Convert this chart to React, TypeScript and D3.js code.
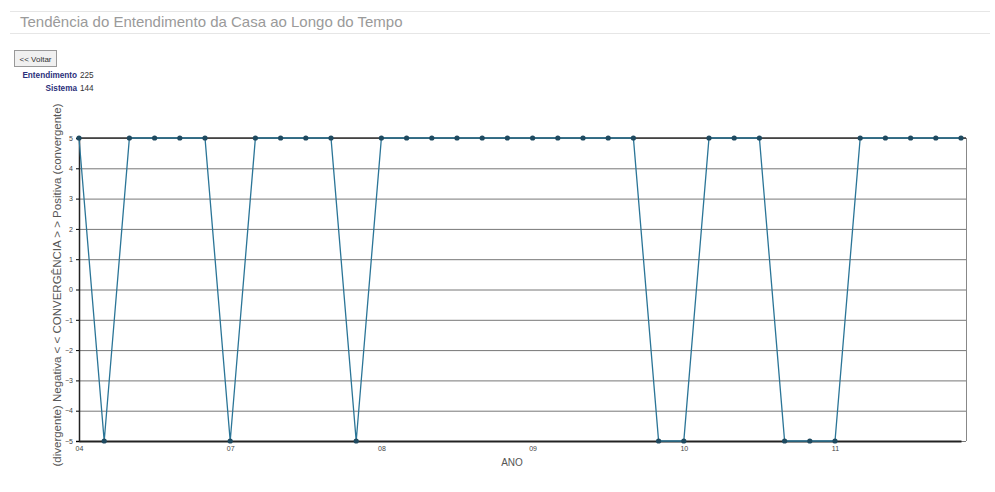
import React, { useRef, useEffect } from 'react';
import * as d3 from 'd3';

// one reading per period, +5 convergent / -5 divergent
const values: number[] = [
    5, -5, 5, 5, 5, 5, -5, 5, 5, 5, 5, -5,
    5, 5, 5, 5, 5, 5, 5, 5, 5, 5, 5, -5,
    -5, 5, 5, 5, -5, -5, -5, 5, 5, 5, 5, 5,
];
const yearTicks: { index: number; label: string }[] = [
    { index: 0, label: '04' },
    { index: 6, label: '07' },
    { index: 12, label: '08' },
    { index: 18, label: '09' },
    { index: 24, label: '10' },
    { index: 30, label: '11' },
];
const yTicks = d3.range(-5, 6);
const summaryLabels = ['Entendimento', 'Sistema'];
const summaryValues = [225, 144];

const W = 995;
const H = 492;

const App: React.FC = () => {
    const svgRef = useRef<SVGSVGElement>(null);

    useEffect(() => {
        if (!svgRef.current) return;
        const svg = d3.select(svgRef.current);
        svg.selectAll('*').remove();

        const left = 79, right = 966, top = 138, bottom = 441;
        const font = 'Liberation Sans, Arial, sans-serif';

        // header
        svg.append('line').attr('x1', 10).attr('x2', 990).attr('y1', 11.5).attr('y2', 11.5)
            .attr('stroke', '#e6e6e6');
        svg.append('line').attr('x1', 10).attr('x2', 990).attr('y1', 33.5).attr('y2', 33.5)
            .attr('stroke', '#e6e6e6');
        svg.append('text').attr('x', 20).attr('y', 27)
            .attr('font-family', font).attr('font-size', 15).attr('fill', '#9a9a9a')
            .text('Tendência do Entendimento da Casa ao Longo do Tempo');

        // back button
        svg.append('rect').attr('x', 14.5).attr('y', 50.5).attr('width', 42).attr('height', 16)
            .attr('fill', '#f0f0f0').attr('stroke', '#999');
        svg.append('text').attr('x', 35.5).attr('y', 62).attr('text-anchor', 'middle')
            .attr('font-family', font).attr('font-size', 8).attr('fill', '#333')
            .text('<< Voltar');

        summaryLabels.forEach((lab, i) => {
            const y = 78 + i * 13;
            svg.append('text').attr('x', 77).attr('y', y).attr('text-anchor', 'end')
                .attr('font-family', font).attr('font-size', 8.2).attr('font-weight', 'bold')
                .attr('fill', '#2b2f7a').text(lab);
            svg.append('text').attr('x', 80).attr('y', y)
                .attr('font-family', font).attr('font-size', 8.2).attr('fill', '#333')
                .text(String(summaryValues[i]));
        });

        const x = d3.scaleLinear().domain([0, values.length - 1]).range([left, 961]);
        const y = d3.scaleLinear().domain([-5, 5]).range([bottom, top]);

        // grid
        svg.append('g').selectAll('line').data(yTicks).enter().append('line')
            .attr('x1', left).attr('x2', right)
            .attr('y1', d => y(d) + 0.5).attr('y2', d => y(d) + 0.5)
            .attr('stroke', '#777').attr('stroke-width', 1);
        svg.append('line').attr('x1', right + 0.5).attr('x2', right + 0.5)
            .attr('y1', top).attr('y2', bottom).attr('stroke', '#888');

        // y axis
        const yAxis = d3.axisLeft(y).tickValues(yTicks).tickSize(3).tickFormat(d3.format('d'));
        const gy = svg.append('g').attr('transform', `translate(${left},0)`).call(yAxis);
        gy.select('.domain').attr('stroke', '#222').attr('stroke-width', 1.5);
        gy.selectAll('text').attr('font-size', 7).attr('font-family', font).attr('fill', '#444');

        // x axis
        const xAxis = d3.axisBottom(x)
            .tickValues(yearTicks.map(t => t.index))
            .tickSize(0).tickPadding(5)
            .tickFormat((d) => yearTicks.find(t => t.index === d)?.label || '');
        const gx = svg.append('g').attr('transform', `translate(0,${bottom})`).call(xAxis);
        gx.select('.domain').attr('stroke', '#222').attr('stroke-width', 2);
        gx.selectAll('text').attr('font-size', 7).attr('font-family', font).attr('fill', '#444');

        svg.append('line').attr('x1', left).attr('x2', right).attr('y1', top).attr('y2', top)
            .attr('stroke', '#333').attr('stroke-width', 1.5);

        svg.append('text').attr('x', 512).attr('y', 466).attr('text-anchor', 'middle')
            .attr('font-family', font).attr('font-size', 10).attr('fill', '#555').text('ANO');

        svg.append('text')
            .attr('transform', 'translate(61,285) rotate(-90)')
            .attr('text-anchor', 'middle')
            .attr('font-family', font).attr('font-size', 11.5).attr('fill', '#555')
            .text('(divergente) Negativa < < CONVERGÊNCIA > > Positiva (convergente)');

        // series
        const line = d3.line<number>().x((_, i) => x(i)).y(d => y(d));
        svg.append('path').datum(values).attr('d', line)
            .attr('fill', 'none').attr('stroke', '#2b7597').attr('stroke-width', 1.3);
        svg.append('g').selectAll('circle').data(values).enter().append('circle')
            .attr('cx', (_, i) => x(i)).attr('cy', d => y(d)).attr('r', 2.6)
            .attr('fill', '#1f4a60');
    }, []);

    return (
        <svg
            ref={svgRef}
            width={W}
            height={H}
            style={{ position: 'absolute', left: 0, top: 0, background: '#fff' }}
        />
    );
};

export default App;
